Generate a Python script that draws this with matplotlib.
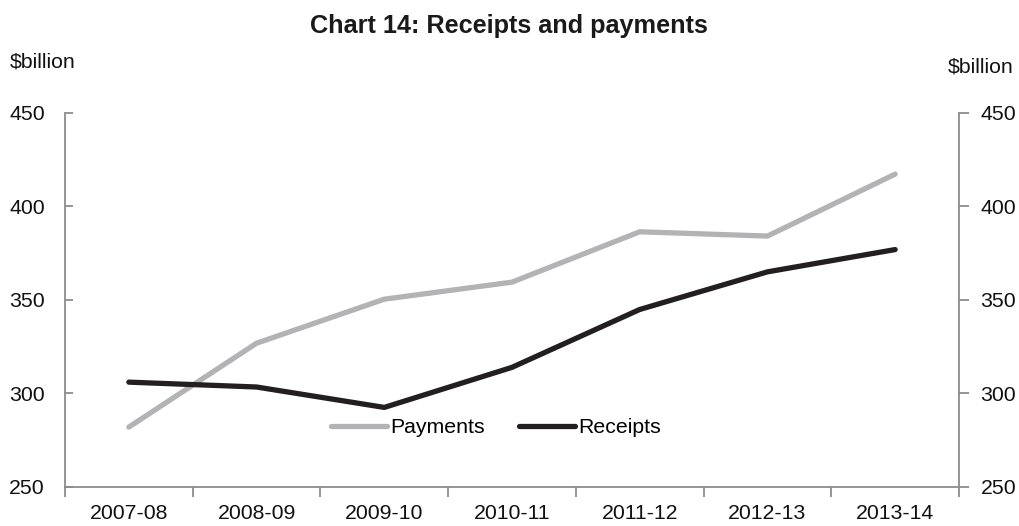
import matplotlib
matplotlib.use("Agg")
import matplotlib.pyplot as plt
import numpy as np

years = ["2007-08", "2008-09", "2009-10", "2010-11", "2011-12", "2012-13", "2013-14"]
payments = [282.0, 326.8, 350.3, 359.4, 386.3, 384.0, 417.1]
receipts = [306.0, 303.4, 292.5, 313.9, 344.8, 364.9, 376.8]
y_ticks = [250, 300, 350, 400, 450]

plt.rcParams['font.family'] = ['Liberation Sans', 'DejaVu Sans']

FS = 15.3
fig = plt.figure(figsize=(10.19, 5.26), dpi=100)
ax = fig.add_axes([65/1019, 39/526, (959-65)/1019, (487-112.5)/526])

x = np.arange(len(years))
ax.plot(x, payments, color="#b3b3b5", lw=3.8, solid_capstyle="round", label="Payments")
ax.plot(x, receipts, color="#231f20", lw=3.8, solid_capstyle="round", label="Receipts")

ax.set_xlim(-0.5, len(years) - 0.5)
ax.set_ylim(250, 450)
ax.set_yticks(y_ticks)
ax.set_xticks(x)
ax.set_xticklabels(years)
ax.set_xticks(np.arange(len(years) + 1) - 0.5, minor=True)

spine_col = "#8c8c8c"
for s in ["top", "right"]:
    ax.spines[s].set_visible(False)
for s in ["left", "bottom"]:
    ax.spines[s].set_color(spine_col)
    ax.spines[s].set_linewidth(1.3)

ax.tick_params(axis="x", which="major", length=0, labelsize=FS, pad=12, colors="#111111")
ax.tick_params(axis="x", which="minor", length=7, width=1.3, color=spine_col, direction="out")
ax.tick_params(axis="y", direction="in", length=6, width=1.3, color=spine_col,
               labelsize=FS, labelcolor="#111111", pad=14.5)

ax2 = ax.twinx()
ax2.set_ylim(250, 450)
ax2.set_yticks(y_ticks)
for s in ["top", "left", "bottom"]:
    ax2.spines[s].set_visible(False)
ax2.spines["right"].set_color(spine_col)
ax2.spines["right"].set_linewidth(1.3)
ax2.tick_params(axis="y", direction="out", length=7, width=1.3, color=spine_col,
                labelsize=FS, labelcolor="#111111", pad=8.5)

fig.text(0.499, 0.950, "Chart 14: Receipts and payments", ha="center", va="center",
         fontsize=18.2, fontweight="bold", color="#1a1a1a")
fig.text(0.010, 0.883, "$billion", ha="left", va="center", fontsize=FS, color="#111111")
fig.text(0.995, 0.872, "$billion", ha="right", va="center", fontsize=FS, color="#111111")

ax.legend(loc="center", bbox_to_anchor=(0.482, 0.158), ncol=2, frameon=False,
          fontsize=FS, handlelength=2.65, handletextpad=0.15, columnspacing=1.6)

fig.savefig("out.png", dpi=100)
